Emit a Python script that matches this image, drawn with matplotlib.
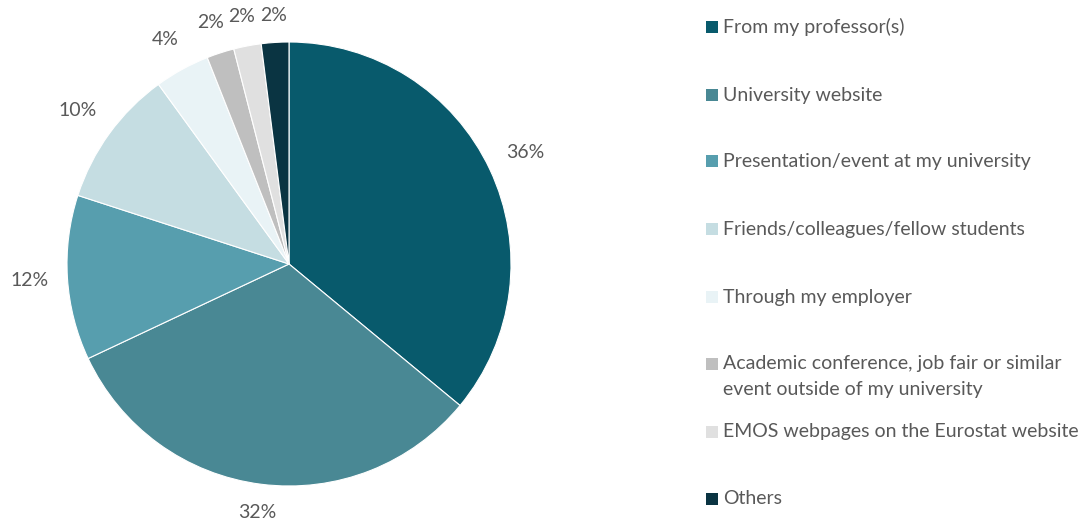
import numpy as np
import matplotlib

matplotlib.use("Agg")
import matplotlib.pyplot as plt
from matplotlib.patches import Rectangle

plt.rcParams["font.family"] = ["Lato", "DejaVu Sans"]

# survey: how respondents heard about the programme (% of answers)
categories = [
    "From my professor(s)",
    "University website",
    "Presentation/event at my university",
    "Friends/colleagues/fellow students",
    "Through my employer",
    "Academic conference, job fair or similar\nevent outside of my university",
    "EMOS webpages on the Eurostat website",
    "Others",
]
shares = [36, 32, 12, 10, 4, 2, 2, 2]
colors = ["#085A6C", "#498894", "#579EAE", "#C5DDE2",
          "#E9F3F6", "#BFBFBF", "#E0E0E0", "#0A3442"]

TEXT = "#595959"
W, H = 1085, 523

fig = plt.figure(figsize=(W / 100, H / 100), dpi=100)

cx, cy, r = 289, 264, 222
ax = fig.add_axes([(cx - r) / W, (H - cy - r) / H, 2 * r / W, 2 * r / H])
wedges, _, pct = ax.pie(
    shares,
    colors=colors,
    startangle=90,
    counterclock=False,
    autopct="%d%%",
    radius=1.0,
    wedgeprops=dict(edgecolor="white", linewidth=0.8),
    textprops=dict(color=TEXT, fontsize=14),
)
ax.set_xlim(-1, 1)
ax.set_ylim(-1, 1)
ax.set_aspect("equal")
ax.axis("off")

# push percentage labels out so their box edge sits a fixed gap off the rim
gap, half_w, half_h = 18 / r, 20 / r, 8 / r
for w, t in zip(wedges, pct):
    th = np.deg2rad((w.theta1 + w.theta2) / 2)
    d = 1 + gap + abs(np.cos(th)) * half_w + abs(np.sin(th)) * half_h
    t.set_position((d * np.cos(th), d * np.sin(th)))
    t.set_ha("center")
    t.set_va("center")

# legend drawn by hand so rows keep the wide spacing
row_y = [27, 95, 161, 229, 297, 364, 432, 499]
sq = 12
for name, col, y in zip(categories, colors, row_y):
    fig.patches.append(Rectangle((706 / W, (H - y - sq / 2) / H), sq / W, sq / H,
                                 transform=fig.transFigure, facecolor=col,
                                 edgecolor="none"))
    for i, line in enumerate(name.split("\n")):
        fig.text(723 / W, (H - y - 26 * i) / H, line, color=TEXT,
                 fontsize=14, ha="left", va="center")

fig.savefig("out.png", dpi=100, facecolor="white")
